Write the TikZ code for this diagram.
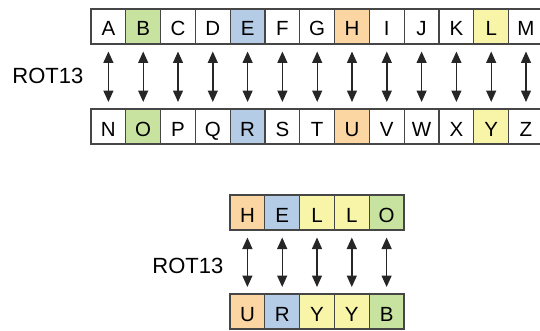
\documentclass[tikz,border=0pt]{standalone}
\usepackage{fontspec}
\setmainfont{Liberation Sans}
\usepackage{tikz}
\usetikzlibrary{
	arrows.meta,
	positioning
}
\definecolor{rotgreen}{RGB}{200,226,160}
\definecolor{rotblue}{RGB}{180,204,230}
\definecolor{rotorange}{RGB}{252,214,162}
\definecolor{rotyellow}{RGB}{248,244,168}
\definecolor{rotline}{RGB}{70,70,70}
\tikzset{
	cell/.style={
		draw=rotline, line width=1.1pt, fill=white,
		minimum width=34.8pt, minimum height=35pt,
		inner sep=0pt, outer sep=0pt,
		text height=19pt, text depth=0pt,
		font=\fontsize{20.5}{22}\selectfont
	},
	rotlabel/.style={
		anchor=east, inner sep=0pt,
		font=\fontsize{22}{24}\selectfont
	},
	every edge/.append style={
		{Triangle[length=11.5pt,width=10pt]}-{Triangle[length=11.5pt,width=10pt]},
		line width=1.4pt, draw=black!85,
		shorten <=7.5pt, shorten >=7pt
	}
}
\begin{document}
\begin{tikzpicture}[x=1pt,y=1pt]
	\useasboundingbox (0,0) rectangle (540,330);
	\draw
		% plain alphabet, first half
		node [cell] (a) at (108.4,303.5)       {A}
		node [cell,fill=rotgreen,right=0pt of a]  (b) {B}
		node [cell,right=0pt of b]                (c) {C}
		node [cell,right=0pt of c]                (d) {D}
		node [cell,fill=rotblue,right=0pt of d]   (e) {E}
		node [cell,right=0pt of e]                (f) {F}
		node [cell,right=0pt of f]                (g) {G}
		node [cell,fill=rotorange,right=0pt of g] (h) {H}
		node [cell,right=0pt of h]                (i) {I}
		node [cell,right=0pt of i]                (j) {J}
		node [cell,right=0pt of j]                (k) {K}
		node [cell,fill=rotyellow,right=0pt of k] (l) {L}
		node [cell,right=0pt of l]                (m) {M}

		% second half
		node [cell] (n) at (108.4,203.5)       {N}
		node [cell,fill=rotgreen,right=0pt of n]  (o) {O}
		node [cell,right=0pt of o]                (p) {P}
		node [cell,right=0pt of p]                (q) {Q}
		node [cell,fill=rotblue,right=0pt of q]   (r) {R}
		node [cell,right=0pt of r]                (s) {S}
		node [cell,right=0pt of s]                (t) {T}
		node [cell,fill=rotorange,right=0pt of t] (u) {U}
		node [cell,right=0pt of u]                (v) {V}
		node [cell,right=0pt of v]                (w) {W}
		node [cell,right=0pt of w]                (x) {X}
		node [cell,fill=rotyellow,right=0pt of x] (y) {Y}
		node [cell,right=0pt of y]                (z) {Z}

		node [rotlabel] (rot) at (83.5,254) {ROT13}

		% the word and its image
		node [cell,fill=rotorange] (w1) at (247.4,117.5) {H}
		node [cell,fill=rotblue,right=0pt of w1]   (w2) {E}
		node [cell,fill=rotyellow,right=0pt of w2] (w3) {L}
		node [cell,fill=rotyellow,right=0pt of w3] (w4) {L}
		node [cell,fill=rotgreen,right=0pt of w4]  (w5) {O}

		node [cell,fill=rotorange] (c1) at (247.4,18.5) {U}
		node [cell,fill=rotblue,right=0pt of c1]   (c2) {R}
		node [cell,fill=rotyellow,right=0pt of c2] (c3) {Y}
		node [cell,fill=rotyellow,right=0pt of c3] (c4) {Y}
		node [cell,fill=rotgreen,right=0pt of c4]  (c5) {B}

		node [rotlabel] (rotw) at (223.5,64) {ROT13}

		(a) edge (n)  (b) edge (o)  (c) edge (p)  (d) edge (q)
		(e) edge (r)  (f) edge (s)  (g) edge (t)  (h) edge (u)
		(i) edge (v)  (j) edge (w)  (k) edge (x)  (l) edge (y)
		(m) edge (z)

		(w1) edge (c1)  (w2) edge (c2)  (w3) edge (c3)
		(w4) edge (c4)  (w5) edge (c5)
	;
\end{tikzpicture}
\end{document}
